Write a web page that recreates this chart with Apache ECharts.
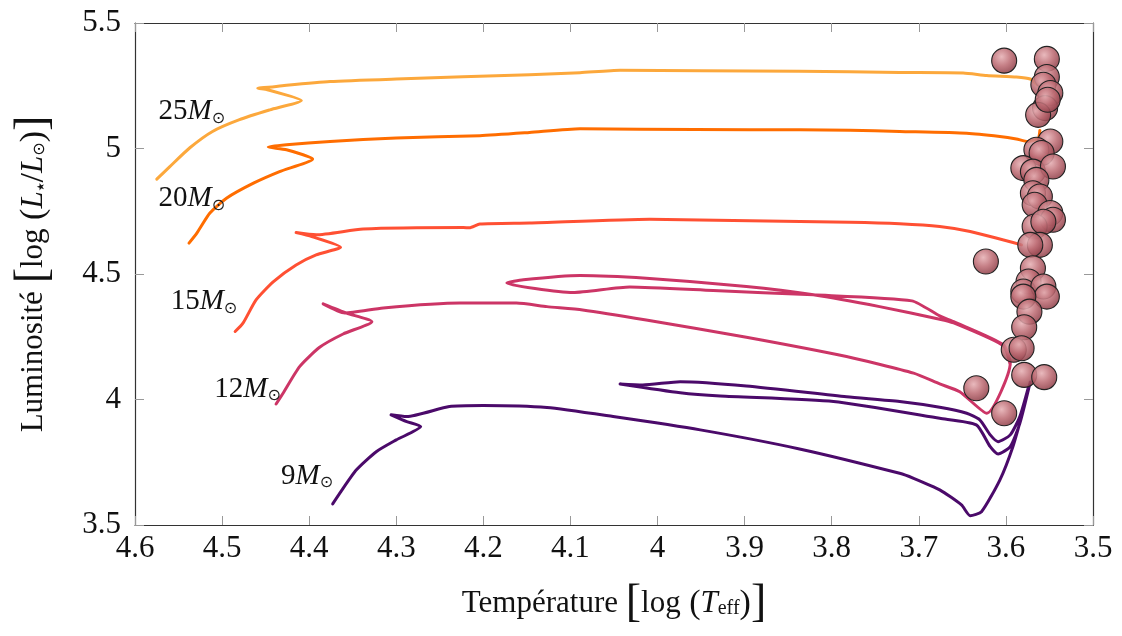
<!DOCTYPE html>
<html>
<head>
<meta charset="utf-8">
<script src="https://cdn.jsdelivr.net/npm/echarts@6/dist/echarts.min.js"></script>
<style>
html,body{margin:0;padding:0;background:#fff;}
#chart{width:1122px;height:636px;}
</style>
</head>
<body>
<div id="chart"></div>
<script>
// ---- Data (log Teff, log L/Lsun) ----
const xTicks = [4.6, 4.5, 4.4, 4.3, 4.2, 4.1, 4.0, 3.9, 3.8, 3.7, 3.6, 3.5];
const yTicks = [3.5, 4.0, 4.5, 5.0, 5.5];

const trackMasses = ['25', '20', '15', '12', '9'];

const track25 = [
  [4.575,4.878],[4.560,4.928],[4.537,5.003],[4.511,5.068],[4.480,5.115],[4.445,5.154],[4.409,5.191],
  [4.448,5.234],[4.459,5.240],[4.440,5.246],[4.426,5.252],[4.376,5.267],[4.300,5.277],[4.147,5.294],
  [4.089,5.302],[4.043,5.312],[3.951,5.310],[3.837,5.308],[3.722,5.303],[3.649,5.301],[3.622,5.291],
  [3.588,5.285],[3.572,5.277],[3.564,5.254]
];
const track20 = [
  [4.538,4.623],[4.529,4.663],[4.514,4.743],[4.495,4.802],[4.464,4.862],[4.434,4.908],[4.396,4.958],
  [4.426,4.995],[4.447,5.006],[4.426,5.015],[4.376,5.028],[4.300,5.042],[4.204,5.051],[4.147,5.064],
  [4.089,5.079],[4.020,5.077],[3.894,5.075],[3.779,5.073],[3.722,5.068],[3.645,5.061],[3.607,5.048],
  [3.588,5.038],[3.575,5.028],[3.563,5.040],[3.561,5.072]
];
const track15 = [
  [4.485,4.271],[4.476,4.304],[4.461,4.397],[4.441,4.470],[4.415,4.536],[4.392,4.576],[4.364,4.607],
  [4.397,4.649],[4.415,4.665],[4.392,4.656],[4.338,4.679],[4.223,4.685],[4.216,4.684],[4.204,4.699],
  [4.147,4.703],[4.009,4.718],[3.894,4.712],[3.779,4.706],[3.722,4.700],[3.676,4.689],[3.641,4.669],
  [3.582,4.616]
];
const track12 = [
  [4.438,3.982],[4.430,4.025],[4.411,4.131],[4.388,4.208],[4.361,4.261],[4.328,4.310],
  [4.357,4.344],[4.384,4.381],[4.359,4.345],[4.315,4.365],[4.227,4.384],[4.162,4.384],[4.127,4.370],
  [4.086,4.357],[4.013,4.317],[3.898,4.248],[3.783,4.171],[3.706,4.105],[3.676,4.062],[3.653,4.031],
  [3.622,3.945],[3.595,4.145],[3.603,4.218],[3.660,4.310],[3.676,4.333],[3.708,4.393],[3.821,4.417],
  [3.936,4.434],[4.032,4.448],[4.097,4.426],[4.173,4.464],[4.154,4.477],[4.089,4.494],[4.013,4.483],
  [3.898,4.450],[3.821,4.417],[3.745,4.370],[3.676,4.320],[3.660,4.305],[3.603,4.214],[3.595,4.138]
];
const track9 = [
  [4.373,3.584],[4.365,3.626],[4.346,3.719],[4.323,3.792],[4.300,3.839],[4.272,3.892],
  [4.288,3.912],[4.306,3.939],[4.288,3.932],[4.239,3.972],[4.200,3.976],[4.127,3.968],[4.051,3.932],
  [3.951,3.879],[3.837,3.803],[3.722,3.706],[3.706,3.686],[3.676,3.640],[3.651,3.580],[3.641,3.537],
  [3.628,3.553],[3.607,3.679],[3.592,3.812],[3.580,3.959],[3.572,4.070],
  [3.584,3.905],[3.595,3.812],[3.609,3.783],[3.618,3.812],[3.634,3.899],[3.676,3.925],[3.798,3.992],
  [3.928,4.014],[3.974,4.027],[4.043,4.062],
  [4.017,4.058],[3.974,4.071],[3.898,4.054],[3.783,4.011],[3.722,3.992],[3.676,3.969],[3.645,3.945],
  [3.630,3.919],[3.618,3.859],[3.609,3.832],[3.595,3.859],[3.584,3.932],[3.574,4.051]
];

const starTeff = [
  3.602,3.553,3.553,3.557,3.549,3.555,3.563,3.552,3.549,3.565,3.559,3.580,3.569,3.546,3.565,3.569,
  3.561,3.567,3.549,3.546,3.567,3.557,3.561,3.572,3.623,3.569,3.574,3.580,3.557,3.553,3.580,3.573,
  3.579,3.591,3.582,3.579,3.556,3.634,3.602
];
const starLum = [
  5.350,5.357,5.285,5.254,5.221,5.161,5.134,5.194,5.028,4.995,4.982,4.922,4.908,4.928,4.875,4.822,
  4.809,4.776,4.743,4.716,4.689,4.708,4.616,4.616,4.550,4.523,4.470,4.430,4.450,4.410,4.410,4.350,
  4.288,4.198,4.204,4.098,4.089,4.045,3.945
];

const labelX = [4.496, 4.496, 4.482, 4.432, 4.372];
const labelY = [5.146, 4.800, 4.389, 4.042, 3.695];

// ---- Styles ----
const FONT = '"Liberation Serif", "DejaVu Serif", serif';
const trackColors = ['#fca83c', '#ff6d00', '#ff5033', '#cc3566', '#4b0a6a'];
const tracks = [track25, track20, track15, track12, track9];

const chart = echarts.init(document.getElementById('chart'), null, {renderer: 'canvas'});

const lineSeries = tracks.map((t, i) => ({
  type: 'line',
  name: trackMasses[i],
  data: t,
  showSymbol: false,
  symbol: 'none',
  smooth: 0.2,
  lineStyle: {color: trackColors[i], width: 3, cap: 'round', join: 'round'},
  z: 2,
  silent: true,
  animation: false
}));

const labelSeries = {
  type: 'scatter',
  data: trackMasses.map((m, i) => ({value: [labelX[i], labelY[i]], name: m})),
  symbolSize: 1,
  itemStyle: {color: 'rgba(0,0,0,0)', opacity: 1},
  label: {
    show: true,
    position: 'left',
    distance: 0,
    color: '#111',
    textBorderWidth: 0,
    formatter: p => '{n|' + p.name + '}{m|M}{s|⊙}',
    rich: {
      n: {fontFamily: FONT, fontSize: 29, color: '#111', textBorderWidth: 0},
      m: {fontFamily: FONT, fontSize: 29, fontStyle: 'italic', color: '#111', textBorderWidth: 0},
      s: {fontFamily: 'DejaVu Sans', fontSize: 16, color: '#222', padding: [14, 0, 0, 0], lineHeight: 16, textBorderWidth: 0}
    }
  },
  z: 3,
  silent: true,
  animation: false
};

const starSeries = {
  type: 'scatter',
  data: starTeff.map((t, i) => [t, starLum[i]]),
  symbolSize: 25,
  itemStyle: {
    opacity: 1,
    color: {
      type: 'radial', x: 0.4, y: 0.35, r: 0.7,
      colorStops: [
        {offset: 0, color: 'rgba(230,176,180,0.88)'},
        {offset: 0.5, color: 'rgba(188,106,114,0.86)'},
        {offset: 1, color: 'rgba(138,58,68,0.88)'}
      ]
    },
    borderColor: '#222',
    borderWidth: 1.1
  },
  z: 5,
  silent: true,
  animation: false
};

const axisLineStyle = {color: '#333', width: 1.2};
const tickStyle = {color: '#999', width: 1};

const option = {
  backgroundColor: '#fff',
  animation: false,
  grid: {left: 135, right: 29, top: 23, bottom: 111, containLabel: false},
  xAxis: [{
    type: 'value', inverse: true, min: 3.5, max: 4.6, interval: 0.1,
    position: 'bottom',
    axisLine: {show: true, lineStyle: axisLineStyle},
    axisTick: {show: true, inside: true, length: 9, lineStyle: tickStyle},
    splitLine: {show: false},
    axisLabel: {
      fontFamily: FONT, fontSize: 31, color: '#111', margin: 8,
      formatter: v => String(+(+v).toFixed(1))
    },
    name: '{t|Température }{b|[}{t|log}{p| (}{i|T}{s|eff}{p|)}{b|]}',
    nameLocation: 'middle',
    nameGap: 56,
    nameTextStyle: {
      rich: {
        t: {fontFamily: FONT, fontSize: 31, color: '#111'},
        b: {fontFamily: FONT, fontSize: 46, color: '#111'},
        p: {fontFamily: FONT, fontSize: 34, color: '#111'},
        i: {fontFamily: FONT, fontSize: 31, fontStyle: 'italic', color: '#111'},
        s: {fontFamily: FONT, fontSize: 20, color: '#111', padding: [10, 0, 0, 0], lineHeight: 20}
      }
    }
  }, {
    type: 'value', inverse: true, min: 3.5, max: 4.6, interval: 0.1,
    position: 'top',
    axisLine: {show: true, lineStyle: axisLineStyle},
    axisTick: {show: true, inside: true, length: 9, lineStyle: tickStyle},
    axisLabel: {show: false},
    splitLine: {show: false}
  }],
  yAxis: [{
    type: 'value', min: 3.5, max: 5.5, interval: 0.5,
    position: 'left',
    axisLine: {show: true, lineStyle: axisLineStyle},
    axisTick: {show: true, inside: true, length: 9, lineStyle: tickStyle},
    splitLine: {show: false},
    axisLabel: {
      fontFamily: FONT, fontSize: 31, color: '#111', margin: 14,
      formatter: v => String(+(+v).toFixed(1))
    },
    name: '{t|Luminosité }{b|[}{t|log}{p| (}{i|L}{s|★}{p|/}{i|L}{s2|⊙}{p|)}{b|]}',
    nameLocation: 'middle',
    nameGap: 78,
    nameRotate: 90,
    nameTextStyle: {
      rich: {
        t: {fontFamily: FONT, fontSize: 31, color: '#111'},
        b: {fontFamily: FONT, fontSize: 46, color: '#111'},
        p: {fontFamily: FONT, fontSize: 34, color: '#111'},
        i: {fontFamily: FONT, fontSize: 31, fontStyle: 'italic', color: '#111'},
        s: {fontFamily: 'DejaVu Sans', fontSize: 10, color: '#111', padding: [14, 0, 0, 0], lineHeight: 10},
        s2: {fontFamily: 'DejaVu Sans', fontSize: 16, color: '#111', padding: [12, 0, 0, 0], lineHeight: 16}
      }
    }
  }, {
    type: 'value', min: 3.5, max: 5.5, interval: 0.5,
    position: 'right',
    axisLine: {show: true, lineStyle: axisLineStyle},
    axisTick: {show: true, inside: true, length: 9, lineStyle: tickStyle},
    axisLabel: {show: false},
    splitLine: {show: false}
  }],
  series: [...lineSeries, labelSeries, starSeries]
};

chart.setOption(option);
</script>
</body>
</html>
